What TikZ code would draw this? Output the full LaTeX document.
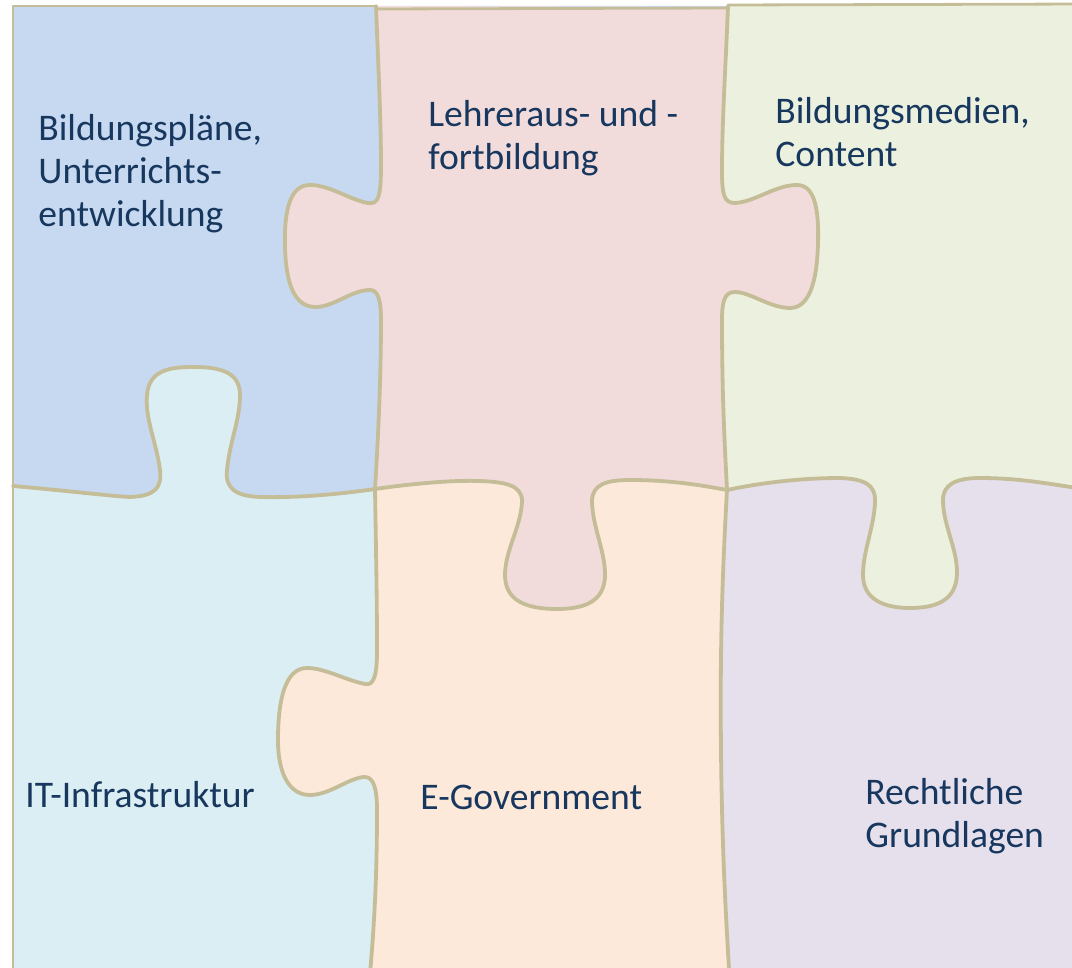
\documentclass[tikz,border=0pt]{standalone}
\usepackage{fontspec}
\setmainfont{Carlito}
\definecolor{pblue}{HTML}{C6D9F1}
\definecolor{pred}{HTML}{F2DCDB}
\definecolor{pgreen}{HTML}{EBF1DE}
\definecolor{plblue}{HTML}{DBEEF4}
\definecolor{porange}{HTML}{FDE9D9}
\definecolor{plav}{HTML}{E5E0EC}
\definecolor{pedge}{HTML}{C4BD97}
\definecolor{ptext}{HTML}{17375E}
\tikzset{
 edge/.style={draw=pedge, line width=1.9pt, line cap=round, line join=round},
 outer/.style={draw=pedge, line width=1.4pt, line cap=round, line join=round},
 lbl/.style={font=\fontsize{18.8pt}{21.5pt}\selectfont, text=ptext, align=left, inner sep=0pt},
 bVone/.style={insert path={
  .. controls (378,60) and (381,120) .. (381,165)
  .. controls (381,195) and (379,205) .. (368,203)
  .. controls (350,200) and (330,185) .. (310,185)
  .. controls (290,185) and (284,210) .. (285,247)
  .. controls (286,285) and (295,308) .. (317,307)
  .. controls (335,306) and (352,290) .. (370,290)
  .. controls (378,290) and (381,300) .. (381,320)
  .. controls (381,380) and (378,440) .. (375,489)}},
 bVtwo/.style={insert path={
  .. controls (726,60) and (722,120) .. (722,170)
  .. controls (722,195) and (724,203) .. (735,203)
  .. controls (755,202) and (775,185) .. (797,185)
  .. controls (815,185) and (819,210) .. (818,243)
  .. controls (817,285) and (808,308) .. (790,308)
  .. controls (770,308) and (750,292) .. (735,292)
  .. controls (725,292) and (722,300) .. (722,320)
  .. controls (722,400) and (725,450) .. (727,490)}},
 bVthree/.style={insert path={
  .. controls (376,550) and (377,600) .. (377,650)
  .. controls (377,675) and (374,686) .. (365,684)
  .. controls (345,680) and (325,668) .. (307,668)
  .. controls (285,668) and (278,700) .. (278,740)
  .. controls (278,775) and (290,795) .. (310,795)
  .. controls (330,795) and (350,777) .. (365,777)
  .. controls (374,777) and (377,790) .. (377,810)
  .. controls (377,880) and (374,930) .. (369,985)}},
 bVfour/.style={insert path={
  .. controls (722,580) and (720,650) .. (721,750)
  .. controls (722,850) and (726,920) .. (730,985)}},
 bVfourrev/.style={insert path={
  .. controls (726,920) and (722,850) .. (721,750)
  .. controls (720,650) and (722,580) .. (727,490)}},
 bHone/.style={insert path={
  .. controls (60,490) and (110,496) .. (130,497)
  .. controls (155,496) and (162,488) .. (160,470)
  .. controls (156,440) and (145,420) .. (147,395)
  .. controls (149,370) and (170,367) .. (193,367)
  .. controls (216,367) and (240,370) .. (240,395)
  .. controls (240,420) and (230,440) .. (227,470)
  .. controls (225,488) and (235,496) .. (260,497)
  .. controls (300,498) and (340,494) .. (375,489)}},
 bHtwo/.style={insert path={
  .. controls (410,484) and (450,480) .. (480,481)
  .. controls (505,482) and (521,485) .. (522,500)
  .. controls (522,525) and (505,550) .. (505,575)
  .. controls (505,600) and (525,609) .. (557,609)
  .. controls (590,609) and (606,598) .. (605,572)
  .. controls (604,548) and (592,525) .. (592,500)
  .. controls (593,485) and (605,480) .. (630,480)
  .. controls (670,480) and (700,485) .. (727,490)}},
 bHthree/.style={insert path={
  .. controls (760,483) and (800,478) .. (840,478)
  .. controls (865,479) and (875,485) .. (875,500)
  .. controls (875,525) and (863,550) .. (863,575)
  .. controls (863,600) and (885,608) .. (910,608)
  .. controls (940,608) and (957,598) .. (957,572)
  .. controls (957,548) and (943,525) .. (943,500)
  .. controls (943,485) and (955,478) .. (980,478)
  .. controls (1020,478) and (1050,484) .. (1090,490)}}
}
\begin{document}
\begin{tikzpicture}[x=0.5pt,y=-0.5pt]
\useasboundingbox (0,0) rectangle (1072,968);
% fills, painted in layers
\fill[pblue] (13,6) -- (13,486) [bHone] [bHtwo] [bHthree] -- (1090,6) -- cycle;
\fill[pred] (376,6) [bVone] [bHtwo] [bHthree] -- (1090,8) -- cycle;
\fill[pgreen] (728,6) [bVtwo] [bHthree] -- (1090,5) -- cycle;
\fill[porange] (13,486) [bHone] [bHtwo] [bHthree] -- (1090,985) -- (13,985) -- cycle;
\fill[plblue] (13,486) [bHone] [bVthree] -- (13,985) -- cycle;
\fill[plav] (727,490) [bHthree] -- (1090,985) -- (730,985) [bVfourrev] -- cycle;
% outlines
\draw[outer] (13,985) -- (13,6) -- (376,6);
\draw[outer] (378,9) -- (728,8);
\draw[outer] (728,5) -- (1090,4);
\draw[edge] (376,6) [bVone];
\draw[edge] (728,6) [bVtwo];
\draw[edge] (375,489) [bVthree];
\draw[edge] (727,490) [bVfour];
\draw[edge] (13,486) [bHone];
\draw[edge] (375,489) [bHtwo];
\draw[edge] (727,490) [bHthree];
% labels (anchor at baseline of last line)
\node[lbl, anchor=base west] (t1) at (38,227) {Bildungspläne,\\Unterrichts-\\entwicklung};
\node[lbl, anchor=base west] (t2) at (428,170) {Lehreraus- und -\\fortbildung};
\node[lbl, anchor=base west] (t3) at (775,167) {Bildungsmedien,\\Content};
\node[lbl, anchor=base west] (t4) at (25,807) {IT-Infrastruktur};
\node[lbl, anchor=base west] (t5) at (420,809) {E-Government};
\node[lbl, anchor=base west] (t6) at (865,847) {Rechtliche\\Grundlagen};
\end{tikzpicture}
\end{document}
